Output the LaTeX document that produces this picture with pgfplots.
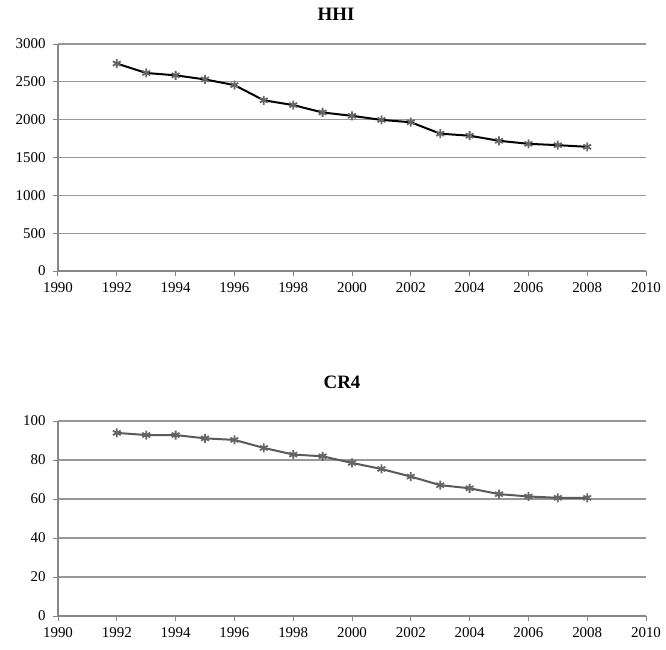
\documentclass[border=0pt]{standalone}
\usepackage{fontspec}
\setmainfont{Liberation Serif}
\usepackage{pgfplots}
\pgfplotsset{compat=1.18}
\definecolor{gridgray}{HTML}{989898}
\definecolor{axgray}{HTML}{868686}
\definecolor{markgray}{HTML}{666666}
\definecolor{linegray}{HTML}{5A5A5A}

\pgfplotsset{
  excelstyle/.style={
    scale only axis,
    width=588bp,
    xmin=1990, xmax=2010,
    xtick={1990,1992,...,2010},
    axis lines*=left,
    axis line style={axgray, line width=1.2bp},
    tick align=outside,
    major tick length=5bp,
    tick style={axgray, line width=1bp},
    ymajorgrids=true,
    grid style={gridgray, line width=1.3bp},
    font=\fontsize{15}{17}\selectfont,
    /pgf/number format/assume math mode=true,
    /pgf/number format/1000 sep={},
    xticklabel style={yshift=-3bp},
    yticklabel style={xshift=-4bp},
    clip=false,
  }
}

\begin{document}
\begin{tikzpicture}
\begin{axis}[
  excelstyle,
  at={(0bp,0bp)}, anchor=south west,
  height=227bp,
  ymin=0, ymax=3000,
  ytick={0,500,...,3000},
]
\addplot[black, line width=2bp, mark=asterisk, mark size=4.5bp,
  mark options={markgray, line width=1.8bp}]
  coordinates {
  (1992,2742)(1993,2617)(1994,2586)(1995,2532)(1996,2457)(1997,2256)
  (1998,2193)(1999,2095)(2000,2051)(2001,1997)(2002,1966)(2003,1815)
  (2004,1788)(2005,1721)(2006,1681)(2007,1663)(2008,1641)
  };
\node[font=\fontsize{19}{21}\selectfont\bfseries] at (rel axis cs:0.473,1) [yshift=30bp] {HHI};
\end{axis}

\begin{axis}[
  excelstyle,
  at={(0bp,-345bp)}, anchor=south west,
  height=195bp,
  ymin=0, ymax=100,
  ytick={0,20,...,100},
]
\addplot[linegray, line width=2bp, mark=asterisk, mark size=4.5bp,
  mark options={markgray, line width=1.8bp}]
  coordinates {
  (1992,93.9)(1993,92.8)(1994,92.8)(1995,91.1)(1996,90.3)(1997,86.2)
  (1998,82.8)(1999,81.9)(2000,78.5)(2001,75.4)(2002,71.5)(2003,67.1)
  (2004,65.5)(2005,62.5)(2006,61.3)(2007,60.6)(2008,60.6)
  };
\node[font=\fontsize{19}{21}\selectfont\bfseries] at (rel axis cs:0.483,1) [yshift=39bp] {CR4};
\end{axis}
\pgfresetboundingbox
\useasboundingbox (-58bp,-379bp) rectangle (608bp,271bp);
\end{tikzpicture}
\end{document}
